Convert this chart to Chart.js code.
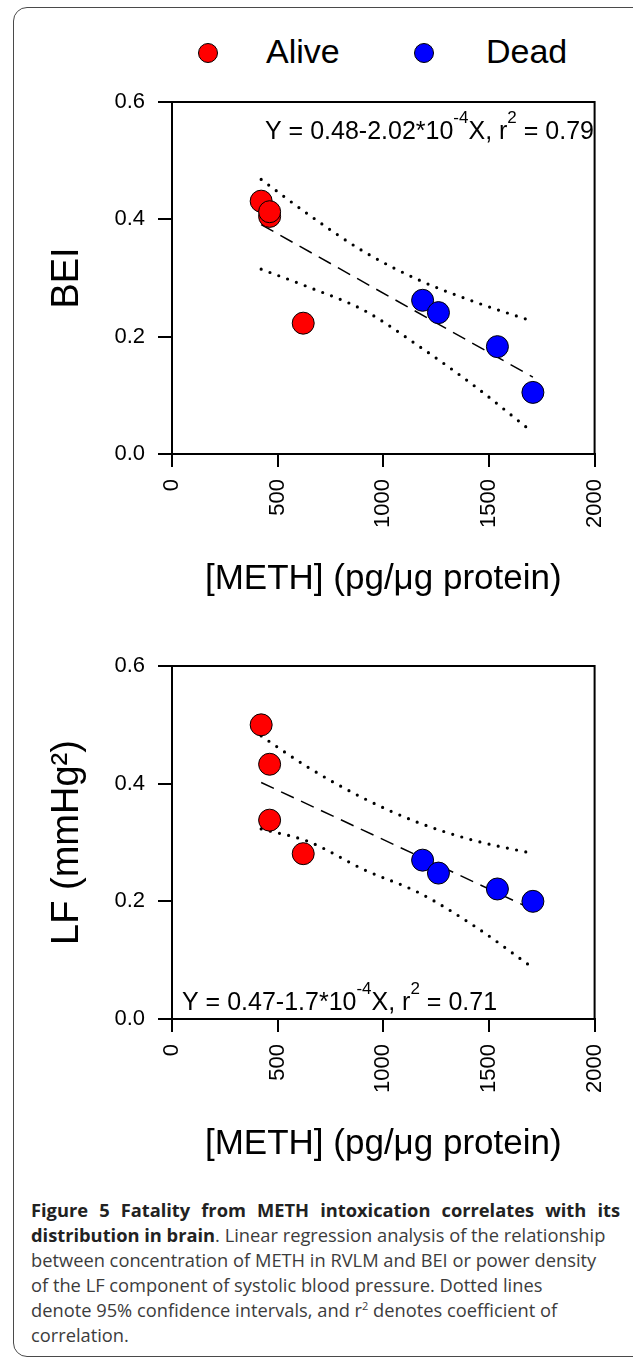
<!DOCTYPE html>
<html>
<head>
<meta charset="utf-8">
<script src="https://cdn.jsdelivr.net/npm/chart.js@4.4.0/dist/chart.umd.min.js"></script>
<style>
  body { margin: 0; width: 633px; height: 1360px; position: relative; overflow: hidden; background: #fff; font-family: "Liberation Sans", Arial, sans-serif; }
  #frame { position: absolute; left: 13px; top: 7px; width: 640px; height: 1350px; border: 1.5px solid #4a4a4a; border-radius: 14px; box-sizing: border-box; }
  .panel { position: absolute; left: 0; width: 633px; }
  .dot { position: absolute; top: 43px; width: 20px; height: 20px; border-radius: 50%; border: 1px solid #000; box-sizing: border-box; }
  .lbl { position: absolute; top: 34px; font-size: 34px; line-height: 34px; color: #000; }
  #caption { position: absolute; left: 31px; top: 1197px; font-family: "Open Sans", sans-serif; font-size: 18.3px; line-height: 25px; color: #3c3c3c; white-space: nowrap; }
  #caption b { color: #222; }
  #caption .first { width: 589px; text-align: justify; text-align-last: justify; white-space: normal; }
  #caption sup { font-size: 11px; line-height: 0; vertical-align: 0; position: relative; top: -7px; }
</style>
</head>
<body>
<div id="frame"></div>
<div id="legend"></div>
<div class="panel" style="top:70px;height:560px"><canvas id="bei-chart"></canvas></div>
<div class="panel" style="top:630px;height:565px"><canvas id="lf-chart"></canvas></div>
<div id="caption"><div class="first"><b>Figure 5 Fatality from METH intoxication correlates with its</b></div><b>distribution in brain</b>. Linear regression analysis of the relationship<br>between concentration of METH in RVLM and BEI or power density<br>of the LF component of systolic blood pressure. Dotted lines<br>denote 95% confidence intervals, and r<sup>2</sup> denotes coefficient of<br>correlation.</div>

<script>
// series names and colours
const seriesNames = ['Alive', 'Dead'];
const seriesColors = ['#ff0000', '#0000ff'];

// shared axes
const xTicks = [0, 500, 1000, 1500, 2000];
const yTicks = [0, 0.2, 0.4, 0.6];

// BEI panel
const beiAliveX = [422, 462, 462, 621];
const beiAliveY = [0.431, 0.405, 0.413, 0.223];
const beiDeadX = [1186, 1261, 1540, 1708];
const beiDeadY = [0.262, 0.241, 0.183, 0.105];
const beiFitX = [422, 1708];
const beiFitY = [0.391, 0.131];
const beiBandX = [422, 643, 908, 1172, 1435, 1700];
const beiUpperY = [0.468, 0.409, 0.345, 0.296, 0.259, 0.227];
const beiLowerY = [0.315, 0.285, 0.245, 0.183, 0.115, 0.039];

// LF panel
const lfAliveX = [422, 462, 462, 621];
const lfAliveY = [0.500, 0.433, 0.338, 0.281];
const lfDeadX = [1186, 1261, 1540, 1708];
const lfDeadY = [0.270, 0.248, 0.221, 0.200];
const lfFitX = [422, 1708];
const lfFitY = [0.402, 0.186];
const lfBandX = [422, 643, 908, 1172, 1435, 1700];
const lfUpperY = [0.481, 0.428, 0.375, 0.333, 0.303, 0.282];
const lfLowerY = [0.323, 0.302, 0.254, 0.214, 0.157, 0.089];

// equation labels (pieces, sup = superscript)
const beiEquation = [{t: 'Y = 0.48-2.02*10'}, {t: '-4', sup: true}, {t: 'X, r'}, {t: '2', sup: true}, {t: ' = 0.79'}];
const lfEquation = [{t: 'Y = 0.47-1.7*10'}, {t: '-4', sup: true}, {t: 'X, r'}, {t: '2', sup: true}, {t: ' = 0.71'}];

const FONT = '"Liberation Sans", Arial, sans-serif';

// legend
const legend = document.getElementById('legend');
const dotX = [198, 414];
const textX = [266, 486];
seriesNames.forEach((name, i) => {
    const d = document.createElement('div');
    d.className = 'dot';
    d.style.left = dotX[i] + 'px';
    d.style.background = seriesColors[i];
    legend.appendChild(d);
    const s = document.createElement('div');
    s.className = 'lbl';
    s.style.left = textX[i] + 'px';
    s.textContent = name;
    legend.appendChild(s);
});

function pts(xs, ys) {
    return xs.map((x, i) => ({x: x, y: ys[i]}));
}

// top and right sides of the plot box
const boxPlugin = {
    id: 'box',
    beforeDatasetsDraw(chart) {
        const {ctx, chartArea: a} = chart;
        ctx.save();
        ctx.strokeStyle = '#000';
        ctx.lineWidth = 2;
        ctx.beginPath();
        ctx.moveTo(a.left, a.top);
        ctx.lineTo(a.right, a.top);
        ctx.lineTo(a.right, a.bottom);
        ctx.stroke();
        ctx.restore();
    }
};

// regression equation with superscripts
const equationPlugin = {
    id: 'equation',
    afterDatasetsDraw(chart, args, opts) {
        const {ctx, chartArea: a} = chart;
        let x = a.left + opts.dx;
        const y = opts.fromBottom ? a.bottom - opts.dy : a.top + opts.dy;
        ctx.save();
        ctx.fillStyle = '#000';
        ctx.textBaseline = 'alphabetic';
        opts.parts.forEach(p => {
            ctx.font = (p.sup ? 17 : 25) + 'px ' + FONT;
            ctx.fillText(p.t, x, p.sup ? y - 16 : y);
            x += ctx.measureText(p.t).width;
        });
        ctx.restore();
    }
};

function makeChart(id, d) {
    const ctx = document.getElementById(id).getContext('2d');
    return new Chart(ctx, {
        type: 'scatter',
        data: {
            datasets: [
                {
                    label: seriesNames[0],
                    data: pts(d.aliveX, d.aliveY),
                    backgroundColor: seriesColors[0],
                    borderColor: '#000',
                    borderWidth: 1,
                    pointRadius: 11
                },
                {
                    label: seriesNames[1],
                    data: pts(d.deadX, d.deadY),
                    backgroundColor: seriesColors[1],
                    borderColor: '#000',
                    borderWidth: 1,
                    pointRadius: 11
                },
                {
                    label: 'Fit',
                    data: pts(d.fitX, d.fitY),
                    showLine: true,
                    borderColor: '#000',
                    borderWidth: 1.5,
                    borderDash: [14, 8],
                    pointRadius: 0
                },
                {
                    label: 'Upper 95%',
                    data: pts(d.bandX, d.upperY),
                    showLine: true,
                    borderColor: '#000',
                    borderWidth: 3.2,
                    borderDash: [0, 9.4],
                    borderCapStyle: 'round',
                    cubicInterpolationMode: 'monotone',
                    pointRadius: 0
                },
                {
                    label: 'Lower 95%',
                    data: pts(d.bandX, d.lowerY),
                    showLine: true,
                    borderColor: '#000',
                    borderWidth: 3.2,
                    borderDash: [0, 9.4],
                    borderCapStyle: 'round',
                    cubicInterpolationMode: 'monotone',
                    pointRadius: 0
                }
            ]
        },
        options: {
            responsive: true,
            maintainAspectRatio: false,
            animation: false,
            events: [],
            layout: { padding: { top: d.padTop, right: 36, bottom: 0, left: 0 } },
            plugins: {
                legend: { display: false },
                tooltip: { enabled: false },
                equation: { parts: d.equation, dx: d.eqDx, dy: d.eqDy, fromBottom: d.eqBottom }
            },
            scales: {
                x: {
                    type: 'linear',
                    min: 0,
                    max: 2000,
                    afterBuildTicks: s => { s.ticks = xTicks.map(v => ({value: v})); },
                    afterFit: s => { s.height = 176; },
                    ticks: {
                        autoSkip: false,
                        minRotation: 90,
                        maxRotation: 90,
                        padding: 12,
                        color: '#000',
                        font: { family: FONT, size: 22 },
                        callback: v => String(v)
                    },
                    grid: { drawOnChartArea: false, drawTicks: true, tickLength: 13, color: '#000', lineWidth: 2 },
                    border: { display: true, color: '#000', width: 2 },
                    title: {
                        display: true,
                        text: '[METH] (pg/\u03bcg protein)',
                        color: '#000',
                        font: { family: FONT, size: 35 },
                        padding: { top: 0, bottom: 30 }
                    }
                },
                y: {
                    type: 'linear',
                    min: 0,
                    max: 0.6,
                    afterBuildTicks: s => { s.ticks = yTicks.map(v => ({value: v})); },
                    afterFit: s => { s.width = 172; },
                    ticks: {
                        padding: 13,
                        color: '#000',
                        font: { family: FONT, size: 22 },
                        callback: v => v.toFixed(1)
                    },
                    grid: { drawOnChartArea: false, drawTicks: true, tickLength: 14, color: '#000', lineWidth: 2 },
                    border: { display: true, color: '#000', width: 2 },
                    title: {
                        display: true,
                        text: d.yTitle,
                        color: '#000',
                        font: { family: FONT, size: 38 },
                        padding: { top: 45, bottom: 0 }
                    }
                }
            }
        },
        plugins: [boxPlugin, equationPlugin]
    });
}

makeChart('bei-chart', {
    aliveX: beiAliveX, aliveY: beiAliveY, deadX: beiDeadX, deadY: beiDeadY,
    fitX: beiFitX, fitY: beiFitY, bandX: beiBandX, upperY: beiUpperY, lowerY: beiLowerY,
    yTitle: 'BEI', padTop: 32,
    equation: beiEquation, eqDx: 93, eqDy: 37, eqBottom: false
});

makeChart('lf-chart', {
    aliveX: lfAliveX, aliveY: lfAliveY, deadX: lfDeadX, deadY: lfDeadY,
    fitX: lfFitX, fitY: lfFitY, bandX: lfBandX, upperY: lfUpperY, lowerY: lfLowerY,
    yTitle: 'LF (mmHg\u00b2)', padTop: 36,
    equation: lfEquation, eqDx: 10, eqDy: 9, eqBottom: true
});
</script>
</body>
</html>
